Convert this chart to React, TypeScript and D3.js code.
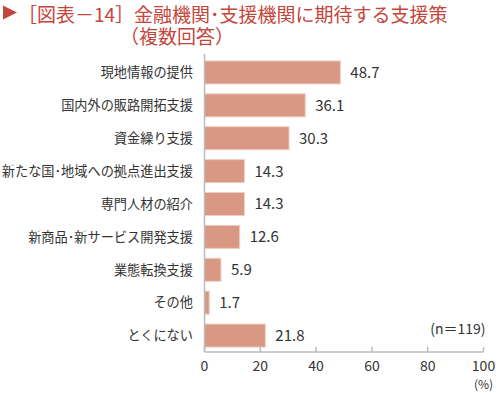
import { useEffect, useRef } from 'react';
import * as d3 from 'd3';

const categories = [
  '現地情報の提供',
  '国内外の販路開拓支援',
  '資金繰り支援',
  '新たな国･地域への拠点進出支援',
  '専門人材の紹介',
  '新商品･新サービス開発支援',
  '業態転換支援',
  'その他',
  'とくにない',
];
const values = [48.7, 36.1, 30.3, 14.3, 14.3, 12.6, 5.9, 1.7, 21.8];
const xTicks = [0, 20, 40, 60, 80, 100];

const FONT = '"Noto Sans CJK JP", "Noto Sans", sans-serif';
const TEXT = '#333';
const AXIS = '#bbb';

const App = () => {
  const svgRef = useRef<SVGSVGElement>(null);

  useEffect(() => {
    const svg = d3.select(svgRef.current);
    svg.selectAll('*').remove();

    const width = 500;
    const height = 393;
    const margin = { top: 56, left: 204.5, right: 16.5, bottom: 41 };

    const x = d3.scaleLinear().domain([0, 100]).range([margin.left, width - margin.right]);
    const y = d3
      .scaleBand()
      .domain(categories)
      .range([margin.top, height - margin.bottom])
      .paddingInner(0.3)
      .paddingOuter(0.15);

    // Title
    svg.append('path')
      .attr('d', 'M3,5.5 L17,12.5 L3,19.5 Z')
      .attr('fill', '#c4463b');
    svg.append('text')
      .attr('x', 18)
      .attr('y', 21.5)
      .attr('font-family', FONT)
      .attr('font-size', 19)
      .attr('fill', '#c4463b')
      .text('［図表－14］金融機関･支援機関に期待する支援策');
    svg.append('text')
      .attr('x', 120)
      .attr('y', 44)
      .attr('font-family', FONT)
      .attr('font-size', 19)
      .attr('fill', '#c4463b')
      .text('（複数回答）');

    // Bars
    svg.selectAll('.bar')
      .data(values)
      .enter()
      .append('rect')
      .attr('x', x(0))
      .attr('y', (_, i) => y(categories[i])!)
      .attr('width', d => x(d) - x(0))
      .attr('height', y.bandwidth())
      .attr('fill', '#d99883')
      .attr('stroke', '#f0cfc3')
      .attr('stroke-width', 1);

    svg.selectAll('.val')
      .data(values)
      .enter()
      .append('text')
      .attr('x', d => x(d) + 10)
      .attr('y', (_, i) => y(categories[i])! + y.bandwidth() / 2)
      .attr('dy', '0.36em')
      .attr('font-family', FONT)
      .attr('font-size', 15)
      .attr('fill', TEXT)
      .text(d => d.toFixed(1));

    // Category labels
    svg.selectAll('.cat')
      .data(categories)
      .enter()
      .append('text')
      .attr('x', 193)
      .attr('y', d => y(d)! + y.bandwidth() / 2)
      .attr('dy', '0.36em')
      .attr('text-anchor', 'end')
      .attr('font-family', FONT)
      .attr('font-size', 13.2)
      .attr('fill', TEXT)
      .text(d => d);

    // Axes
    const axisY = height - margin.bottom;
    svg.append('line')
      .attr('x1', x(0)).attr('x2', x(0))
      .attr('y1', margin.top - 2).attr('y2', axisY)
      .attr('stroke', AXIS).attr('stroke-width', 1.5);
    svg.append('line')
      .attr('x1', x(0)).attr('x2', x(100))
      .attr('y1', axisY).attr('y2', axisY)
      .attr('stroke', AXIS).attr('stroke-width', 1.5);
    svg.selectAll('.tick')
      .data(xTicks)
      .enter()
      .append('line')
      .attr('x1', d => x(d)).attr('x2', d => x(d))
      .attr('y1', axisY - 5).attr('y2', axisY)
      .attr('stroke', AXIS).attr('stroke-width', 1.5);
    svg.selectAll('.tickLabel')
      .data(xTicks)
      .enter()
      .append('text')
      .attr('x', d => x(d))
      .attr('y', axisY + 19)
      .attr('text-anchor', 'middle')
      .attr('font-family', FONT)
      .attr('font-size', 14)
      .attr('fill', TEXT)
      .text(d => d);
    svg.append('text')
      .attr('x', x(100))
      .attr('y', axisY + 37)
      .attr('text-anchor', 'middle')
      .attr('font-family', FONT)
      .attr('font-size', 12)
      .attr('fill', TEXT)
      .text('(%)');
    svg.append('text')
      .attr('x', x(100) + 2)
      .attr('y', 334)
      .attr('text-anchor', 'end')
      .attr('font-family', FONT)
      .attr('font-size', 14)
      .attr('fill', TEXT)
      .text('(n＝119)');
  }, []);

  return (
    <svg
      ref={svgRef}
      width={500}
      height={393}
      style={{ position: 'absolute', left: 0, top: 0, background: '#fff' }}
    />
  );
};

export default App;
